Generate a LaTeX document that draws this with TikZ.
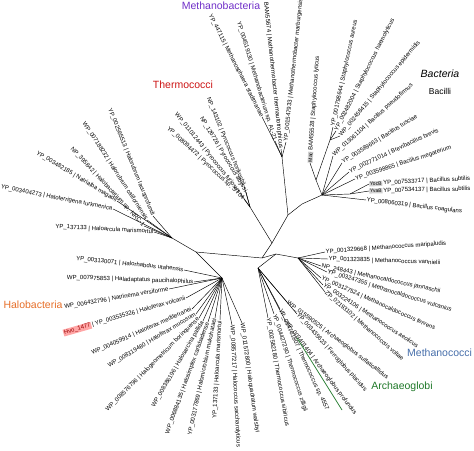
\documentclass[tikz,border=0pt]{standalone}
\usepackage{fontspec}
\setmainfont{Liberation Sans}
\usepackage{xcolor}
\usepackage{tikz}

\definecolor{mbcol}{RGB}{112,48,200}
\definecolor{tccol}{RGB}{204,20,20}
\definecolor{hbcol}{RGB}{230,110,40}
\definecolor{mccol}{RGB}{70,110,170}
\definecolor{agcol}{RGB}{30,120,40}

\tikzset{
  lft/.style={font=\fontsize{6}{6.5}\selectfont, inner sep=0.5pt, anchor=east},
  rgt/.style={font=\fontsize{6}{6.5}\selectfont, inner sep=0.5pt, anchor=west},
  grp/.style={font=\fontsize{10.5}{12}\selectfont, inner sep=0pt},
  graybox/.style={font=\fontsize{5}{5.5}\selectfont, fill=black!18, inner sep=0.8pt},
  redbox/.style={font=\fontsize{6}{6.5}\selectfont, fill=red!35, text=red!60!black, inner sep=0.8pt}
}

\begin{document}
\begin{tikzpicture}[x=1pt,y=-1pt,line width=0.45pt]
\useasboundingbox (0,0) rectangle (474,450);

% draw the inner points
\coordinate (A) at (288,215);
\coordinate (B) at (272,243);
\coordinate (C) at (302,204);
\coordinate (D) at (276,254);
\coordinate (E) at (262,258);
\coordinate (mb) at (282,157);
\coordinate (tc) at (250,207);
\coordinate (h1) at (172,238);
\coordinate (hc) at (196,252);
\coordinate (hl) at (222,278);
\coordinate (mc) at (298,258);
\coordinate (ag) at (258,268);
\coordinate (ba) at (322,195);
\coordinate (st) at (316,180);
\coordinate (ss) at (330,140);
\coordinate (bs) at (350,194);

% draw the inner lines
\draw (mb)--(A)--(B)--(tc);
\draw (A)--(C)--(ba);
\draw (B)--(E)--(hc)--(h1);
\draw (hc)--(hl);
\draw (E)--(D)--(mc);
\draw (D)--(ag);
\draw (ba)--(st)--(ss);
\draw (ba)--(bs);

% Methanobacteria
\draw (mb)--(262,117) node[lft, rotate=-63] (m1) {YP\_447115 | Methanosphaera stadtmanae};
\draw (mb)--(275,141) node[lft, rotate=-73] (m2) {YP\_004519130 | Methanobacterium sp. AL-21};
\draw (mb)--(281,149) node[lft, rotate=-84] (m3) {BAM55674 | Methanothermobacter thermautotrophicus};
\draw (mb)--(286,142) node[rgt, rotate=84] (m4) {YP\_001547933 | Methanothermobacter marburgensis};

% Thermococci
\draw (tc)--(244,186) node[lft, rotate=-68] (t1) {NP\_143102 | Pyrococcus horikoshii};
\draw (tc)--(246,192) node[lft, rotate=-59] (t2) {NP\_126726 | Pyrococcus abyssi};
\draw (tc)--(240,193) node[lft, rotate=-51] (t3) {WP\_011012443 | Pyrococcus furiosus};
\draw (tc)--(244,199) node[lft, rotate=-43] (t4) {YP\_008094472 | Pyrococcus sp. ST04};

% Halobacteria, upper part
\draw (h1)--(153,216) node[lft, rotate=-68] (a1) {YP\_002565513 | Halorubrum lacusprofundi};
\draw (h1)--(147,220) node[lft, rotate=-57] (a2) {WP\_007188232 | Halorubrum californiensis};
\draw (h1)--(144,226) node[lft, rotate=-47] (a3) {NP\_395842 | Halobacterium sp. NRC-1};
\draw (h1)--(117,201) node[lft, rotate=-31] (a4) {YP\_003482185 | Natrialba magadii};
\draw (h1)--(113,209) node[lft, rotate=-11] (a5) {YP\_003404273 | Haloterrigena turkmenica};
\draw (h1)--(154,232) node[lft, rotate=-3] (a6) {YP\_137133 | Haloarcula marismortui};

% Halobacteria, lower part
\draw (hl)--(184,270) node[lft, rotate=-6] (b1) {YP\_003130071 | Halorhabdus utahensis};
\draw (hl)--(194,282) node[lft, rotate=-2] (b2) {WP\_007975853 | Haladaptatus paucihalophilus};
\draw (hl)--(169,289) node[lft, rotate=10] (b3) {WP\_006432796 | Natrinema versiforme};
\draw (hl)--(186,298) node[lft, rotate=16] (b4) {| YP\_003535326 | Haloferax volcanii};
\node[redbox, anchor=east, rotate=16] (hvo) at (b4.west) {Hvo\_1477};
\draw (hl)--(192,309) node[lft, rotate=24] (b5) {WP\_004059914 | Haloferax mediterranei};
\draw (hl)--(196,314) node[lft, rotate=31] (b6) {WP\_008319480 | Haloferax mucosum};
\draw (hl)--(199,318) node[lft, rotate=45] (b7) {WP\_008576796 | Halogeometricum borinquense};
\draw (hl)--(203,321) node[lft, rotate=60] (b8) {WP\_008386196 | Halosarcina pallida};
\draw (hl)--(208,322) node[lft, rotate=70] (b9) {WP\_006884135 | Halosimplex carlsbadense};
\draw (hl)--(215,318) node[lft, rotate=78] (b10) {YP\_003177869 | Halomicrobium mukohataei};
\draw (hl)--(220,320) node[lft, rotate=87] (b11) {YP\_137133 | Haloarcula marismortui};
\draw (hl)--(232,325) node[rgt, rotate=-87] (b12) {WP\_008577217 | Halococcus saccharolyticus};
\draw (hl)--(242,323) node[rgt, rotate=-82] (b13) {WP\_011572800 | Haloquadratum walsbyi};

% Thermococcus and Archaeoglobi
\draw (ag)--(268,318) node[rgt, rotate=-80] (c1) {YP\_002582180 | Thermococcus sibiricus};
\draw (ag)--(274,314) node[rgt, rotate=-72] (c2) {YP\_004427290 | Thermococcus zilligii};
\draw (ag)--(280,309) node[rgt, rotate=-65] (c3) {YP\_004761807 | Thermococcus sp. 4557};
\draw (ag)--(286,322) node[rgt, rotate=-53] (d1) {YP\_003401404 | Archaeoglobus profundus};
\draw (ag)--(297,314) node[rgt, rotate=-48] (d2) {YP\_003435623 | Ferroglobus placidus};
\draw (ag)--(287,302) node[rgt, rotate=-37] (d3) {WP\_015590525 | Archaeoglobus sulfaticallidus};
\draw[agcol, line width=0.7pt] (297,338)--(342,410);

% Methanococci
\draw (mc)--(325,252) node[rgt, rotate=4] (e1) {YP\_001329668 | Methanococcus maripaludis};
\draw (mc)--(328,259) node[rgt, rotate=-2] (e2) {YP\_001323835 | Methanococcus vannielii};
\draw (mc)--(321,266) node[rgt, rotate=-12] (e3) {NP\_248443 | Methanocaldococcus jannaschii};
\draw (mc)--(327,272) node[rgt, rotate=-17] (e4) {YP\_003247355 | Methanocaldococcus vulcanius};
\draw (mc)--(321,278) node[rgt, rotate=-24] (e5) {YP\_003127524 | Methanocaldococcus fervens};
\draw (mc)--(323,285) node[rgt, rotate=-33] (e6) {YP\_003224106 | Methanococcus aeolicus};
\draw (mc)--(325,292) node[rgt, rotate=-41] (e7) {ZP\_02193102 | Methanococcus voltae};

% Bacilli
\draw (st)--(310,163) node[graybox, anchor=west, rotate=86] (mac) {Mac};
\node[rgt, rotate=86] (s1) at (mac.east) {BAM55528 | Staphylococcus lyticus};
\draw (ss)--(333,127) node[rgt, rotate=78] (s2) {YP\_001798644 | Staphylococcus aureus};
\draw (ss)--(336,131) node[rgt, rotate=63] (s3) {YP\_002482004 | Staphylococcus haemolyticus};
\draw (ss)--(340,136) node[rgt, rotate=50] (s4) {WP\_002458415 | Staphylococcus epidermidis};
\draw (ba)--(333,156) node[rgt, rotate=42] (g1) {WP\_013061104 | Bacillus pseudofirmus};
\draw (ba)--(342,163) node[rgt, rotate=32] (g2) {YP\_003589663 | Bacillus tusciae};
\draw (ba)--(349,172) node[rgt, rotate=25] (g3) {YP\_002771014 | Brevibacillus brevis};
\draw (ba)--(355,179) node[rgt, rotate=18] (g4) {YP\_003598865 | Bacillus megaterium};
\draw (bs)--(369,184) node[graybox, anchor=west, rotate=3] (yoc) {YocB};
\node[rgt, rotate=3] (g5) at (yoc.east) {YP\_007533717 | Bacillus subtilis};
\draw (bs)--(369,191) node[graybox, anchor=west, rotate=1] (yva) {YvaB};
\node[rgt, rotate=1] (g6) at (yva.east) {YP\_007534137 | Bacillus subtilis};
\draw (ba)--(366,200) node[rgt, rotate=-7] (g7) {YP\_008060319 | Bacillus coagulans};

% group names
\node[grp, text=mbcol] (nmb) at (221,6) {Methanobacteria};
\node[grp, text=tccol] (ntc) at (183,85) {Thermococci};
\node[grp, font=\fontsize{10.5}{12}\selectfont\itshape] (nbac) at (440,74) {Bacteria};
\node[grp, font=\fontsize{8.5}{10}\selectfont] (nbcl) at (440,91) {Bacilli};
\node[grp, text=hbcol] (nhb) at (33,305) {Halobacteria};
\node[grp, text=mccol, anchor=west] (nmc) at (407,353) {Methanococci};
\node[grp, text=agcol] (nag) at (402,387) {Archaeoglobi};

\end{tikzpicture}
\end{document}
